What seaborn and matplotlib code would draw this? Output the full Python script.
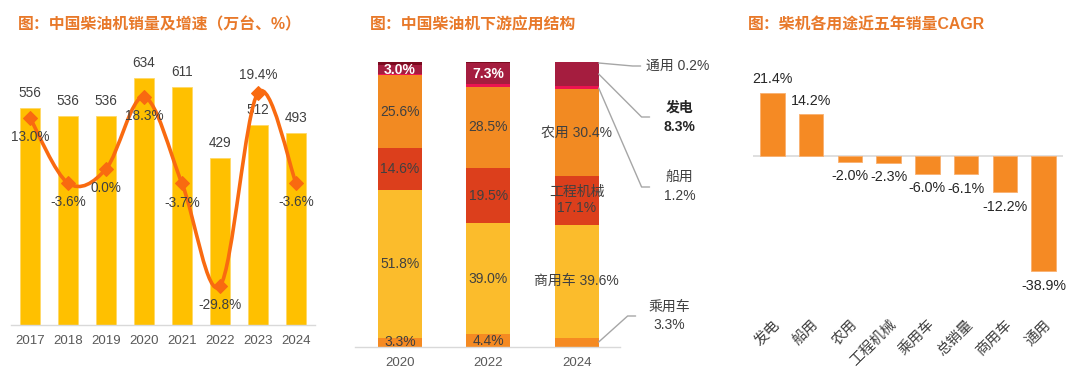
import numpy as np
import pandas as pd
import matplotlib
matplotlib.use("Agg")
import matplotlib.pyplot as plt
import seaborn as sns
from matplotlib.path import Path
from matplotlib.patches import PathPatch

# ---------------- data ----------------
years = ['2017', '2018', '2019', '2020', '2021', '2022', '2023', '2024']
sales = [556, 536, 536, 634, 611, 429, 512, 493]
growth = [13.0, -3.6, 0.0, 18.3, -3.7, -29.8, 19.4, -3.6]

struct_years = ['2020', '2022', '2024']
seg_names = ['乘用车', '商用车', '工程机械', '农用', '船用', '发电', '通用']
share_car = [3.3, 4.4, 3.3]
share_truck = [51.8, 39.0, 39.6]
share_cons = [14.6, 19.5, 17.1]
share_agri = [25.6, 28.5, 30.4]
share_ship = [0.5, 0.8, 1.2]
share_power = [3.0, 7.3, 8.3]
share_general = [1.2, 0.5, 0.2]

cagr_cats = ['发电', '船用', '农用', '工程机械', '乘用车', '总销量', '商用车', '通用']
cagr = [21.4, 14.2, -2.0, -2.3, -6.0, -6.1, -12.2, -38.9]

# ---------------- style ----------------
sns.set_theme(style="white")
plt.rcParams['font.family'] = ['Liberation Sans', 'Noto Sans CJK SC', 'DejaVu Sans']
plt.rcParams['axes.unicode_minus'] = False

W, H = 1080, 375
fig = plt.figure(figsize=(W / 100, H / 100), dpi=100)

def axes_px(x0, x1, ytop, ybot):
    return fig.add_axes([x0 / W, (H - ybot) / H, (x1 - x0) / W, (ybot - ytop) / H])

TITLE_C = '#E8792A'
TXT = '#404040'
TICK = '#595959'
AXLINE = '#D9D9D9'

def clean(ax):
    for s in ['top', 'right', 'left']:
        ax.spines[s].set_visible(False)
    ax.spines['bottom'].set_color(AXLINE)
    ax.spines['bottom'].set_linewidth(1.0)
    ax.set_yticks([])
    ax.set_xlabel('')
    ax.set_ylabel('')
    ax.tick_params(axis='x', length=0, colors=TICK, labelsize=9.5)

# titles
fig.text(18 / W, 1 - 25 / H, '图：中国柴油机销量及增速（万台、%）', color=TITLE_C,
         fontsize=11.4, fontweight='bold', va='center', ha='left')
fig.text(370 / W, 1 - 25 / H, '图：中国柴油机下游应用结构', color=TITLE_C,
         fontsize=11.4, fontweight='bold', va='center', ha='left')
fig.text(748 / W, 1 - 25 / H, '图：柴机各用途近五年销量CAGR', color=TITLE_C,
         fontsize=11.4, fontweight='bold', va='center', ha='left')

# ---------------- left chart ----------------
ax1 = axes_px(11, 315, 40, 325)
df1 = pd.DataFrame({'year': years, 'sales': sales, 'growth': growth})
sns.barplot(data=df1, x='year', y='sales', color='#FFC000', width=0.53, ax=ax1,
            saturation=1, edgecolor='#FFD966', linewidth=0.6)
ax1.set_xlim(-0.5, 7.5)
ax1.set_ylim(0, 730.8)
clean(ax1)
ax1.tick_params(axis='x', pad=7)
for i, v in enumerate(sales):
    ax1.annotate(f'{v}', (i, v), xytext=(0, 10.8), textcoords='offset points',
                 ha='center', va='center', fontsize=9.8, color=TXT)

ax1b = ax1.twinx()
ax1b.set_ylim(-39.7, 32.8)
ax1b.axis('off')
LINE_C = '#F96A10'
pts = np.column_stack([np.arange(len(growth)), growth]).astype(float)
verts = [pts[0]]
codes = [Path.MOVETO]
n = len(pts)
for i in range(n - 1):
    p0 = pts[i - 1] if i > 0 else pts[i]
    p1 = pts[i]
    p2 = pts[i + 1]
    p3 = pts[i + 2] if i + 2 < n else pts[i + 1]
    verts += [p1 + (p2 - p0) / 6, p2 - (p3 - p1) / 6, p2]
    codes += [Path.CURVE4] * 3
ax1b.add_patch(PathPatch(Path(verts, codes), facecolor='none', edgecolor=LINE_C,
                         lw=2.6, capstyle='round'))
sns.lineplot(x=np.arange(len(growth)), y=growth, ax=ax1b, marker='D', markersize=7,
             color=LINE_C, linestyle='none', markeredgecolor=LINE_C)
for i, g in enumerate(growth):
    off = 12.5 if i == 6 else -13.7
    ax1b.annotate(f'{g:.1f}%', (i, g), xytext=(0, off), textcoords='offset points',
                  ha='center', va='center', fontsize=9.8, color=TXT)
ax1b.set_xlim(-0.5, 7.5)

# ---------------- middle chart ----------------
ax2 = axes_px(355, 620, 62, 347)
series = [share_car, share_truck, share_cons, share_agri, share_ship, share_power, share_general]
colors = ['#F58A22', '#FBBC2C', '#DC3F1C', '#F28A22', '#EC1450', '#A51D3F', '#7B0A1F']
bottom = np.zeros(len(struct_years))
bottoms = []
for vals, col in zip(series, colors):
    sns.barplot(x=struct_years, y=vals, color=col, width=0.5, ax=ax2, saturation=1,
                bottom=bottom.copy(), linewidth=0)
    bottoms.append(bottom.copy())
    bottom = bottom + np.array(vals)
ax2.set_xlim(-0.51, 2.49)
ax2.set_ylim(0, 100)
clean(ax2)
ax2.tick_params(axis='x', pad=7)

labels = {
    0: ['3.3%', '4.4%', None],
    1: ['51.8%', '39.0%', '商用车 39.6%'],
    2: ['14.6%', '19.5%', '工程机械\n17.1%'],
    3: ['25.6%', '28.5%', '农用 30.4%'],
    5: ['3.0%', '7.3%', None],
}
for si, labs in labels.items():
    for j, lab in enumerate(labs):
        if lab is None:
            continue
        yc = bottoms[si][j] + series[si][j] / 2
        if si == 5:
            ax2.text(j, yc, lab, ha='center', va='center', fontsize=10,
                     color='white', fontweight='bold')
        else:
            ax2.text(j, yc, lab, ha='center', va='center', fontsize=10,
                     color=TXT, linespacing=1.2)

def px2d(px, py):
    return ((px - 400) / 88.5, (347 - py) / 2.85)

LEAD = '#A6A6A6'
leaders = [
    ([(599, 63), (633, 66), (641, 66)]),
    ([(599, 74), (642, 117), (650, 117)]),
    ([(599, 88), (642, 187), (650, 187)]),
    ([(599, 342), (628, 316), (636, 316)]),
]
for pl in leaders:
    xy = [px2d(*p) for p in pl]
    ax2.plot([p[0] for p in xy], [p[1] for p in xy], color=LEAD, lw=1.0, clip_on=False)

def side_text(px, py, s, **kw):
    x, y = px2d(px, py)
    ax2.text(x, y, s, va='center', clip_on=False, fontsize=10, **kw)

side_text(646, 66, '通用 0.2%', ha='left', color=TXT)
side_text(680, 108, '发电', ha='center', color='#262626', fontweight='bold')
side_text(680, 127, '8.3%', ha='center', color='#262626', fontweight='bold')
side_text(680, 178, '船用', ha='center', color=TXT)
side_text(680, 196, '1.2%', ha='center', color=TXT)
side_text(670, 307, '乘用车', ha='center', color=TXT)
side_text(670, 325, '3.3%', ha='center', color=TXT)

# ---------------- right chart ----------------
ax3 = axes_px(753, 1063, 60, 312)
sns.barplot(x=cagr_cats, y=cagr, color='#F58A24', width=0.63, ax=ax3, saturation=1,
            edgecolor='#F9B070', linewidth=0.6)
ax3.set_xlim(-0.5, 7.5)
ax3.set_ylim(-52.7, 32.4)
for s in ['top', 'right', 'left', 'bottom']:
    ax3.spines[s].set_visible(False)
ax3.axhline(0, color=AXLINE, lw=1.2, zorder=0.5)
ax3.set_yticks([])
ax3.tick_params(axis='x', length=0, colors=TXT, labelsize=10.5, pad=4)
for lab in ax3.get_xticklabels():
    lab.set_rotation(45)
    lab.set_ha('right')
    lab.set_rotation_mode('anchor')
for i, v in enumerate(cagr):
    off = 9.5 if v > 0 else -10.5
    ax3.annotate(f'{v:.1f}%', (i, v), xytext=(0, off), textcoords='offset points',
                 ha='center', va='center', fontsize=10.3, color='#262626')

fig.savefig('out.png', dpi=100)
